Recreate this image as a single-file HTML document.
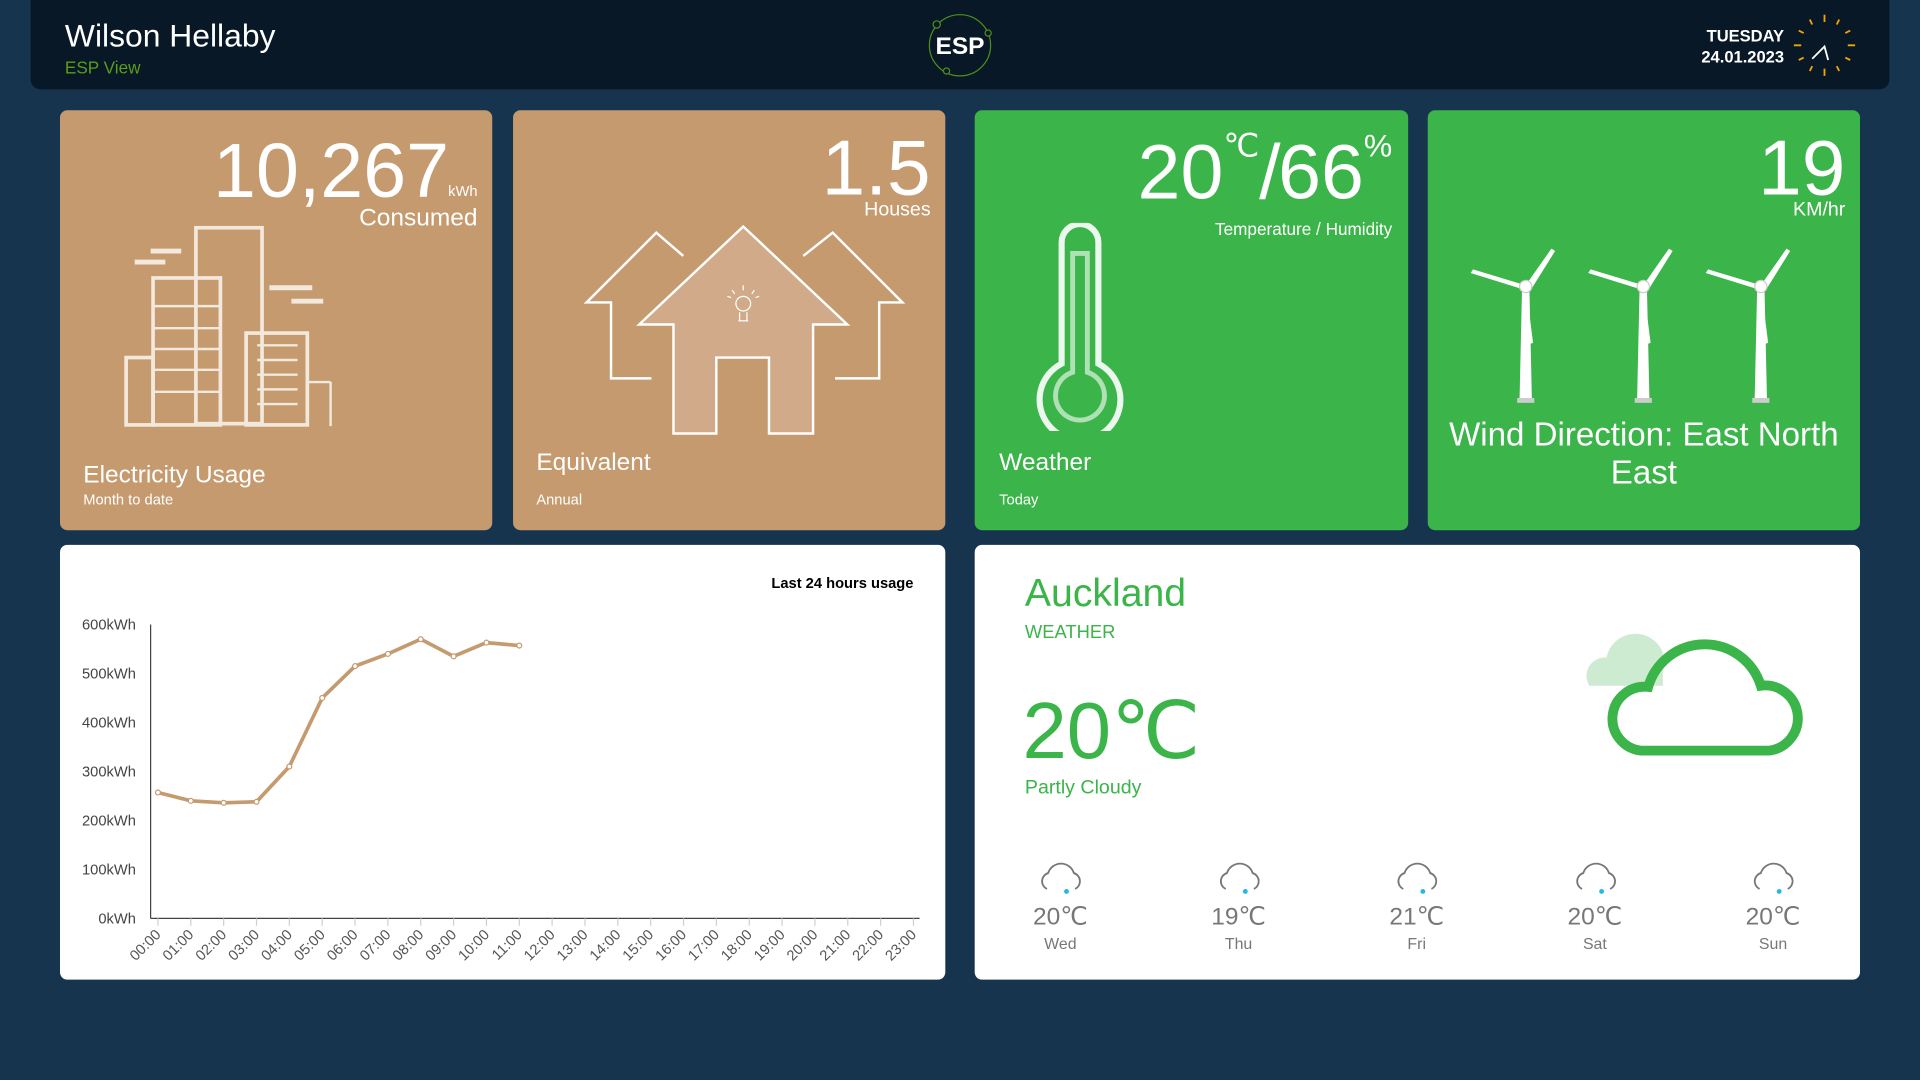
<!DOCTYPE html>
<html><head><meta charset="utf-8">
<style>
html,body{margin:0;padding:0;width:1920px;height:1080px;overflow:hidden;background:#17344f;font-family:"Liberation Sans",sans-serif}
#root{position:absolute;left:0;top:0;width:1568px;height:882px;transform:scale(1.22449);transform-origin:0 0}
.abs{position:absolute}
.card{position:absolute;border-radius:6px}
.tan{background:#c59a6e}
.grn{background:#3bb44a}
.wht{background:#fff}
.w{color:#fff}
</style></head><body>
<div id="root">
<div class="abs" style="left:25px;top:0;width:1518px;height:73px;background:#081826;border-radius:0 0 8px 8px"></div>
<div class="abs w" style="left:53px;top:14px;font-size:26px">Wilson Hellaby</div>
<div class="abs" style="left:53px;top:47px;font-size:14px;color:#5a9e1a">ESP View</div>
<svg class="abs" style="left:756px;top:9px" width="58" height="56">
<ellipse cx="28" cy="28" rx="25" ry="25" fill="none" stroke="#4e8f1a" stroke-width="1"/>
<circle cx="9" cy="11" r="3" fill="#081826" stroke="#4e8f1a"/><circle cx="51" cy="18" r="2.5" fill="#081826" stroke="#4e8f1a"/><circle cx="17" cy="49" r="2.5" fill="#081826" stroke="#4e8f1a"/>
<text x="28" y="35" text-anchor="middle" font-size="20" font-weight="bold" fill="#fff" font-family="Liberation Sans">ESP</text></svg>
<div class="abs w" style="right:111px;top:21px;font-size:13.5px;font-weight:bold;text-align:right;line-height:17px">TUESDAY<br>24.01.2023</div>
<svg class="abs" style="left:1464px;top:11px" width="52" height="52">
<g stroke="#f0a500" stroke-width="1.5">
<line x1="26" y1="1" x2="26" y2="7"/><line x1="26" y1="45" x2="26" y2="51"/><line x1="1" y1="26" x2="7" y2="26"/><line x1="45" y1="26" x2="51" y2="26"/>
<line x1="14" y1="5" x2="16" y2="9"/><line x1="38" y1="5" x2="36" y2="9"/><line x1="14" y1="47" x2="16" y2="43"/><line x1="38" y1="47" x2="36" y2="43"/>
<line x1="5" y1="14" x2="9" y2="16"/><line x1="47" y1="14" x2="43" y2="16"/><line x1="5" y1="38" x2="9" y2="36"/><line x1="47" y1="38" x2="43" y2="36"/></g>
<path d="M16 37 L26 27 L29 38" stroke="#fff" stroke-width="1.5" fill="none"/></svg>

<!-- card 1 -->
<div class="card tan" style="left:49px;top:90px;width:353px;height:343px"></div>
<div class="abs w" style="left:174px;top:104px;font-size:63px">10,267</div>
<div class="abs w" style="left:366px;top:149px;font-size:12px">kWh</div>
<div class="abs w" style="right:1178px;top:167px;font-size:20px">Consumed</div>
<svg class="abs" style="left:100px;top:180px" width="180" height="175" fill="none" stroke="#f3e8dc" stroke-width="3">
<rect x="60" y="6" width="54" height="160"/><rect x="25" y="47" width="55" height="120"/><rect x="101" y="92" width="50" height="75"/><rect x="3" y="112" width="22" height="55"/>
<g stroke-width="4"><line x1="23" y1="25" x2="48" y2="25"/><line x1="10" y1="34" x2="35" y2="34"/><line x1="120" y1="55" x2="155" y2="55"/><line x1="138" y1="66" x2="164" y2="66"/></g>
<g stroke-width="2"><line x1="25" y1="70" x2="80" y2="70"/><line x1="25" y1="88" x2="80" y2="88"/><line x1="25" y1="105" x2="80" y2="105"/><line x1="25" y1="122" x2="80" y2="122"/><line x1="25" y1="140" x2="80" y2="140"/>
<line x1="110" y1="102" x2="143" y2="102"/><line x1="110" y1="114" x2="143" y2="114"/><line x1="110" y1="126" x2="143" y2="126"/><line x1="110" y1="138" x2="143" y2="138"/><line x1="110" y1="150" x2="143" y2="150"/>
<line x1="151" y1="132" x2="170" y2="132"/><line x1="170" y1="132" x2="170" y2="168"/></g></svg>
<div class="abs w" style="left:68px;top:377px;font-size:20px">Electricity Usage</div>
<div class="abs w" style="left:68px;top:401px;font-size:12px">Month to date</div>

<!-- card 2 -->
<div class="card tan" style="left:419px;top:90px;width:353px;height:343px"></div>
<div class="abs w" style="right:808px;top:100px;font-size:64px">1.5</div>
<div class="abs w" style="right:808px;top:163px;font-size:16px">Houses</div>
<svg class="abs" style="left:470px;top:180px" width="275" height="180" fill="none" stroke="#fff" stroke-width="2">
<path d="M88 29 L66 10 L9 67 L29 67 L29 129 L62 129"/><path d="M186 29 L210 10 L267 67 L248 67 L248 129 L212 129"/>
<path d="M137 5 L52 85 L80 85 L80 174 L115 174 L115 112 L158 112 L158 174 L194 174 L194 85 L222 85 Z" fill="#d1ab89"/>
<g stroke-width="1"><circle cx="137" cy="68" r="6"/><line x1="134" y1="75" x2="134" y2="82"/><line x1="140" y1="75" x2="140" y2="82"/><line x1="133" y1="82" x2="141" y2="82"/><line x1="137" y1="53" x2="137" y2="57"/><line x1="128" y1="57" x2="130" y2="60"/><line x1="146" y1="57" x2="144" y2="60"/><line x1="124" y1="62" x2="127" y2="63"/><line x1="150" y1="62" x2="147" y2="63"/></g></svg>
<div class="abs w" style="left:438px;top:367px;font-size:20px">Equivalent</div>
<div class="abs w" style="left:438px;top:401px;font-size:12px">Annual</div>

<!-- card 3 -->
<div class="card grn" style="left:796px;top:90px;width:354px;height:343px"></div>
<div class="abs w" style="right:431px;top:104px;font-size:63px;white-space:nowrap">20<span style="font-size:26px;vertical-align:34px">℃</span>/<span style="margin-left:-2px">66</span><span style="font-size:26px;vertical-align:34px">%</span></div>
<div class="abs w" style="right:431px;top:179px;font-size:14px">Temperature / Humidity</div>
<svg class="abs" style="left:842px;top:182px" width="80" height="170" fill="none" stroke="#fff">
<path d="M25 115 L25 16 A15 15 0 0 1 55 16 L55 115 A33 33 0 1 1 25 115 Z" stroke-width="5" opacity="0.9"/>
<path d="M34 122 L34 25 L46 25 L46 122 A20 20 0 1 1 34 122 Z" stroke-width="4" opacity="0.6"/></svg>
<div class="abs w" style="left:816px;top:367px;font-size:20px">Weather</div>
<div class="abs w" style="left:816px;top:401px;font-size:12px">Today</div>

<!-- card 4 -->
<div class="card grn" style="left:1166px;top:90px;width:353px;height:343px"></div>
<div class="abs w" style="right:61px;top:100px;font-size:64px">19</div>
<div class="abs w" style="right:61px;top:163px;font-size:16px">KM/hr</div>
<svg class="abs" style="left:1195px;top:195px" width="290" height="140" fill="#fff">
<g id="tb"><polygon points="48,40 54,40 56,130 46,130"/><rect x="44" y="130" width="14" height="4" fill="#ccc"/><polygon points="51,38 8,25 6,28 48,41"/><polygon points="51,38 72,8 75,10 55,42"/><polygon points="51,38 57,85 54,86 48,41"/><circle cx="51" cy="39" r="5" stroke="#ccc"/></g>
<use href="#tb" x="96"/><use href="#tb" x="192"/></svg>
<div class="abs w" style="left:1166px;top:340px;width:353px;text-align:center;font-size:27px;line-height:31px">Wind Direction: East North East</div>

<!-- chart card -->
<div class="card wht" style="left:49px;top:445px;width:723px;height:355px"></div>
<div class="abs" style="right:822px;top:469px;font-size:12px;font-weight:bold;color:#000">Last 24 hours usage</div>
<svg class="abs" id="chart" style="left:49px;top:445px" width="723" height="355"></svg>

<!-- weather card -->
<div class="card wht" style="left:796px;top:445px;width:723px;height:355px"></div>
<div class="abs" style="left:837px;top:466px;font-size:32px;color:#3bb44a">Auckland</div>
<div class="abs" style="left:837px;top:508px;font-size:15px;color:#3bb44a">WEATHER</div>
<div class="abs" style="left:835px;top:559px;font-size:65px;color:#3bb44a">20℃</div>
<div class="abs" style="left:837px;top:635px;font-size:16px;color:#3bb44a">Partly Cloudy</div>
<svg class="abs" style="left:1280px;top:505px" width="200" height="120">
<path d="M18 55 A15 15 0 0 1 32 32 A24 24 0 0 1 78 28 L78 55 Z" fill="#cdebd0"/>
<path d="M60 108 A26 26 0 0 1 66 56 A48 48 0 0 1 158 55 A23 23 0 0 1 165 108 Z" fill="none" stroke="#3bb44a" stroke-width="8"/></svg>
<div id="forecast"></div>
</div>
<script>
const hours=["00:00","01:00","02:00","03:00","04:00","05:00","06:00","07:00","08:00","09:00","10:00","11:00","12:00","13:00","14:00","15:00","16:00","17:00","18:00","19:00","20:00","21:00","22:00","23:00"];
const usage=[257,240,236,238,310,450,515,540,570,535,563,557];
const yTicks=[0,100,200,300,400,500,600];
const days=["Wed","Thu","Fri","Sat","Sun"];
const dayTemps=[20,19,21,20,20];
const NS="http://www.w3.org/2000/svg";
const svg=document.getElementById('chart');
const x0=80,x1=697,yb=305,yt=65;
const xs=i=>x0+(x1-x0)*i/(hours.length-1);
const ys=v=>yb-(yb-yt)*v/600;
function mk(t,a){const e=document.createElementNS(NS,t);for(const k in a)e.setAttribute(k,a[k]);svg.appendChild(e);return e;}
let e=mk('line',{x1:74,y1:yt,x2:74,y2:yb,stroke:'#444'});


e=mk('line',{x1:74,y1:yb,x2:702,y2:yb,stroke:'#444'});


yTicks.forEach(v=>{const t=mk('text',{x:62,y:ys(v)+4,'text-anchor':'end','font-size':12,fill:'#444','font-family':'Liberation Sans'});t.textContent=v+'kWh';

});
hours.forEach((h,i)=>{const l=mk('line',{x1:xs(i),y1:yb,x2:xs(i),y2:yb+6,stroke:'#c8d0e0'});


const t=mk('text',{x:xs(i)+3,y:yb+14,'text-anchor':'end','font-size':12,fill:'#555','font-family':'Liberation Sans',transform:`rotate(-45 ${xs(i)+3} ${yb+14})`});t.textContent=h;

});
const p=mk('polyline',{points:usage.map((v,i)=>xs(i)+','+ys(v)).join(' '),fill:'none',stroke:'#c59a6e','stroke-width':3});


usage.forEach((v,i)=>{const c=mk('circle',{cx:xs(i),cy:ys(v),r:2,fill:'#fff',stroke:'#c59a6e','stroke-width':1});

});
const fc=document.getElementById('forecast');
days.forEach((d,i)=>{const cx=866+i*145.5;const w=document.createElement('div');w.style.cssText=`position:absolute;left:${cx-50}px;top:700px;width:100px;text-align:center;color:#777`;


w.innerHTML=`<svg width="40" height="32" style="display:block;margin:0 auto"><path d="M9 26 A7 7 0 0 1 10 13 A11 11 0 0 1 31 13 A7 7 0 0 1 32 26" fill="none" stroke="#777" stroke-width="1.5"/><circle cx="25" cy="28" r="2" fill="#29b6e6"/></svg><div style="font-size:20px;margin-top:4px">${dayTemps[i]}℃</div><div style="font-size:13px;margin-top:2px">${d}</div>`;fc.appendChild(w);});
</script>
</body></html>
